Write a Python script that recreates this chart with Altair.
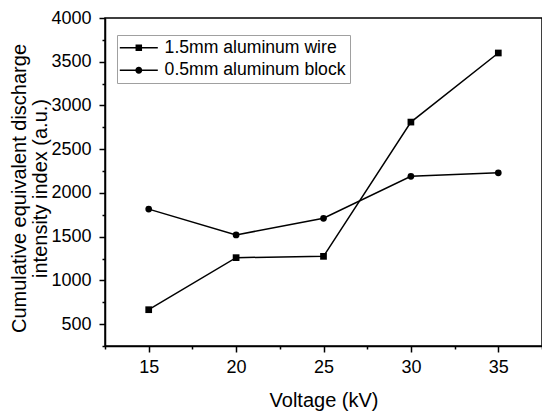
import altair as alt
import pandas as pd

voltage = [15, 20, 25, 30, 35]
wire = [665, 1260, 1275, 2810, 3600]
block = [1815, 1520, 1710, 2190, 2230]
series_names = ["1.5mm aluminum wire", "0.5mm aluminum block"]

x_major = [15, 20, 25, 30, 35]
x_minor = [12.5, 17.5, 22.5, 27.5, 32.5, 37.5]
y_major = [500, 1000, 1500, 2000, 2500, 3000, 3500, 4000]
y_minor = [250, 750, 1250, 1750, 2250, 2750, 3250, 3750]

rows = []
for v, w in zip(voltage, wire):
    rows.append({"Voltage": v, "Value": w, "Series": series_names[0]})
for v, b in zip(voltage, block):
    rows.append({"Voltage": v, "Value": b, "Series": series_names[1]})
df = pd.DataFrame(rows)

FONT = "Liberation Sans"

xscale = alt.Scale(domain=[12.5, 37.5], nice=False, zero=False)
yscale = alt.Scale(domain=[250, 4000], nice=False, zero=False)

common = dict(domainColor="black", domainWidth=1.5, tickColor="black",
              tickWidth=1.5, grid=False)

xaxis = alt.Axis(
    title="Voltage (kV)", values=x_major, orient="bottom", tickSize=6,
    labelPadding=6, labelFontSize=18, labelFont=FONT, labelColor="black",
    titleFont=FONT, titleFontSize=20, titleFontWeight="normal", titleColor="black",
    titleX=218.5, titleY=60, titleBaseline="alphabetic",
    labelFlush=False, labelOverlap=False, **common,
)
yaxis = alt.Axis(
    title=["Cumulative equivalent discharge", "intensity index (a.u.)"],
    values=y_major, orient="left", tickSize=6,
    labelPadding=8, labelFontSize=18, labelFont=FONT, labelColor="black",
    titleFont=FONT, titleFontSize=20, titleFontWeight="normal", titleColor="black",
    titleX=-80, titleY=170, titleAngle=270, titleAlign="center",
    titleBaseline="alphabetic", titleLineHeight=21,
    labelFlush=False, labelOverlap=False, format="d", **common,
)
xaxis_minor = alt.Axis(values=x_minor, orient="bottom", tickSize=3, labels=False,
                       title=None, domain=False, tickColor="black", tickWidth=1.5,
                       grid=False)
yaxis_minor = alt.Axis(values=y_minor, orient="left", tickSize=3, labels=False,
                       title=None, domain=False, tickColor="black", tickWidth=1.5,
                       grid=False)

base = alt.Chart(df)

lines = base.mark_line(color="black", strokeWidth=1.5).encode(
    x=alt.X("Voltage:Q", scale=xscale, axis=xaxis),
    y=alt.Y("Value:Q", scale=yscale, axis=yaxis),
    detail="Series:N",
)

points = base.mark_point(filled=True, color="black", opacity=1, size=45).encode(
    x=alt.X("Voltage:Q", scale=xscale, axis=xaxis_minor),
    y=alt.Y("Value:Q", scale=yscale, axis=yaxis_minor),
    shape=alt.Shape("Series:N",
                    scale=alt.Scale(domain=series_names, range=["square", "circle"]),
                    legend=None),
)

leg_square = "M-2.0,-0.15H5.6V0.15H-2.0ZM1.15,-0.65H2.45V0.65H1.15Z"
leg_circle = ("M-2.0,-0.15H5.6V0.15H-2.0ZM1.1,0A0.7,0.7 0 1,1 2.5,0"
              "A0.7,0.7 0 1,1 1.1,0Z")

legend_layer = base.transform_filter("false").mark_point(
    filled=True, color="black", opacity=1
).encode(
    x=alt.X("Voltage:Q", scale=xscale, axis=None),
    y=alt.Y("Value:Q", scale=yscale, axis=None),
    shape=alt.Shape(
        "Series:N",
        scale=alt.Scale(domain=series_names, range=[leg_square, leg_circle]),
        legend=alt.Legend(
            title=None, orient="none", legendX=12, legendY=17,
            direction="vertical", symbolSize=100, symbolStrokeWidth=0,
            symbolFillColor="black", symbolOpacity=1,
            labelFont=FONT, labelFontSize=17.6, labelColor="black",
            labelOffset=26, padding=4, rowPadding=3.5,
            strokeColor="#a0a0a0", fillColor="white", labelLimit=400,
        ),
    ),
)

chart = alt.layer(lines, points, legend_layer).resolve_scale(
    shape="independent"
).resolve_axis(
    x="independent", y="independent"
).properties(
    width=437, height=328,
    autosize=alt.AutoSizeParams(type="none"),
    padding={"left": 97, "top": 10, "right": 0, "bottom": 74},
    background="white",
).configure_view(stroke="black", strokeWidth=1.5)

chart.save("out.html", embed_options={"renderer": "svg", "actions": False})
